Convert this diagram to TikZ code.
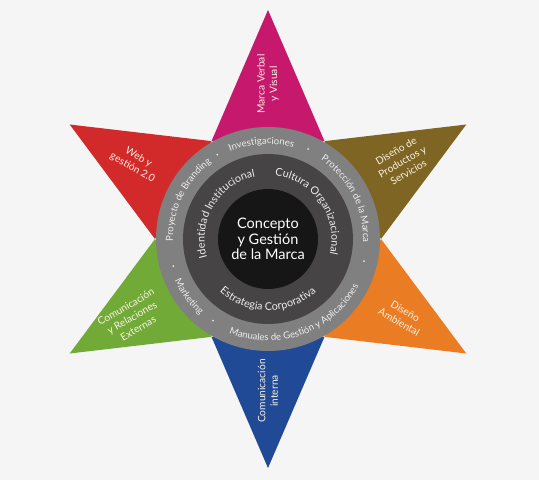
\documentclass[tikz,border=0pt]{standalone}
\usepackage{fontspec}
\setmainfont{Lato}
\usetikzlibrary{decorations.text}
\definecolor{starmagenta}{RGB}{198,25,110}
\definecolor{starolive}{RGB}{126,101,36}
\definecolor{starorange}{RGB}{234,124,36}
\definecolor{starblue}{RGB}{32,74,150}
\definecolor{stargreen}{RGB}{114,170,56}
\definecolor{starred}{RGB}{210,42,42}
\definecolor{bggray}{RGB}{245,245,245}
\definecolor{ringgray}{RGB}{128,128,128}
\definecolor{ringdark}{RGB}{70,68,68}
\definecolor{coreblack}{RGB}{22,22,22}
\definecolor{ptext}{RGB}{250,242,228}
\newcommand{\outerfont}{\fontsize{9.6}{11}\selectfont}
\newcommand{\innerfont}{\fontsize{10.8}{12}\selectfont}

\begin{document}
\begin{tikzpicture}[x=1pt,y=1pt,
    pointlabel/.style={text=ptext,font=\fontsize{10.2}{12.4}\selectfont,align=center,inner sep=0pt},
    outertext/.style={decorate,decoration={text along path,text align=center,text color=white!93!black,text={|\outerfont|#1}}},
    innertext/.style={decorate,decoration={text along path,text align=center,text color=white!93!black,text={|\innerfont|#1}}}]
    \fill[bggray] (-268,-241) rectangle (271,239);
    \foreach \a/\c in {90/starmagenta,30/starolive,-30/starorange,-90/starblue,-150/stargreen,150/starred}
        \fill[\c] (\a:229) -- ({\a+30}:113) -- ({\a-30}:113) -- cycle;
    \fill[ringgray] (0,0) circle (112);
    \fill[ringdark] (0,0) circle (85);
    \fill[coreblack] (0,0) circle (50);
    \foreach \a in {66,-13,236,196,121}
        \fill[white!90!black] (\a:98.5) circle (1);
    \path[outertext=Investigaciones] (134:95) arc[start angle=134,end angle=54,radius=95];
    \path[outertext=Protección de la Marca] (87:95) arc[start angle=87,end angle=-33,radius=95];
    \path[outertext=Proyecto de Branding] (214:95) arc[start angle=214,end angle=94,radius=95];
    \path[outertext=Manuales de Gestión y Aplicaciones] (220:102) arc[start angle=220,end angle=360,radius=102];
    \path[outertext=Marketing] (186:102) arc[start angle=186,end angle=246,radius=102];
    \path[innertext=Identidad Institucional] (219:63.5) arc[start angle=219,end angle=79,radius=63.5];
    \path[innertext=Cultura Organizacional] (105:63.5) arc[start angle=105,end angle=-35,radius=63.5];
    \path[innertext=Estrategia Corporativa] (200:71.5) arc[start angle=200,end angle=340,radius=71.5];
    \node[text=white,font=\fontsize{14.5}{15.5}\selectfont,align=center] (core) at (0,0) {Concepto\\y Gestión\\de la Marca};
    \node[pointlabel,rotate=90] (verbal) at (90:155) {Marca Verbal\\y Visual};
    \node[pointlabel,rotate=30] (productos) at (30:155) {Diseño de\\Productos y\\Servicios};
    \node[pointlabel,rotate=-30] (web) at (150:153) {Web y\\gestión 2.0};
    \node[pointlabel,rotate=30] (externas) at (210:157) {Comunicación\\y Relaciones\\Externas};
    \node[pointlabel,rotate=-30] (ambiental) at (-30:155) {Diseño\\Ambiental};
    \node[pointlabel,rotate=90] (interna) at (-90:152) {Comunicación\\interna};
\end{tikzpicture}
\end{document}
